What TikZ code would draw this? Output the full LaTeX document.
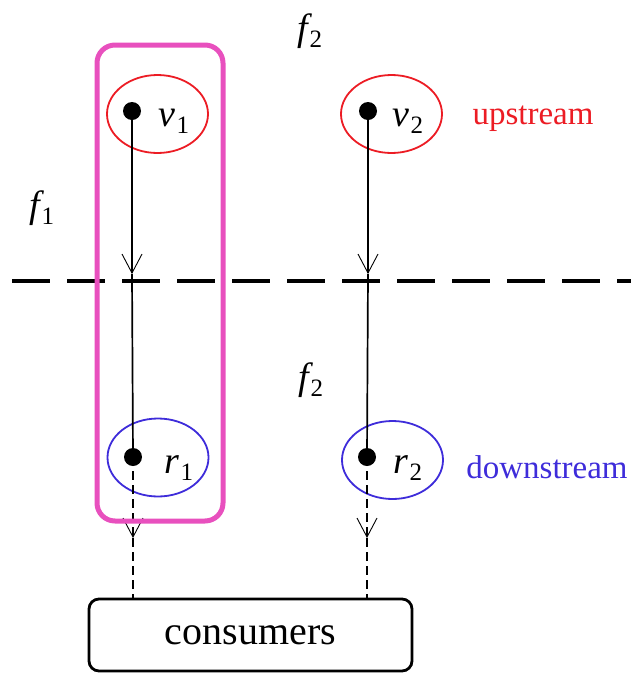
\documentclass[tikz,border=0pt]{standalone}
\usepackage{fontspec}
\setmainfont{Liberation Serif}
\usetikzlibrary{arrows.meta,shapes.geometric}
\definecolor{pinkbox}{RGB}{232,80,190}
\definecolor{upred}{RGB}{236,28,36}
\definecolor{downblue}{RGB}{62,44,218}
\newcommand{\mylab}[2]{{\fontsize{38}{40}\selectfont\itshape #1}\kern1pt\raisebox{-7pt}{\fontsize{25}{26}\selectfont #2}}
\tikzset{
  ell/.style={ellipse,draw,line width=1.8pt,inner sep=0pt,minimum width=101pt,minimum height=78pt},
  dotnode/.style={circle,fill=black,inner sep=0pt,minimum size=18pt},
  lbl/.style={inner sep=0pt,font=\fontsize{33}{38}\selectfont},
  mlbl/.style={inner sep=0pt},
  flow/.style={line width=1.7pt},
  barb/.style={-{Straight Barb[length=19pt,width=20pt,line width=0.9pt]}},
  consdash/.style={line width=1.8pt,dash pattern=on 9pt off 5pt},
}
\begin{document}
\begin{tikzpicture}[x=1pt,y=-1pt]
\useasboundingbox (0,0) rectangle (631,673);
% ellipses
\node[ell,draw=upred] (e1) at (157.5,114) {};
\node[ell,draw=upred] (e2) at (391.5,114) {};
\node[ell,draw=downblue] (e3) at (158,457.5) {};
\node[ell,draw=downblue] (e4) at (392.5,460) {};
% dots
\node[dotnode] (d1) at (132,111) {};
\node[dotnode] (d2) at (368,111) {};
\node[dotnode] (d3) at (133,457) {};
\node[dotnode] (d4) at (367,457) {};
% labels
\node[mlbl] (lv1) at (174,121) {\mylab{v}{1}};
\node[mlbl] (lv2) at (408,121) {\mylab{v}{2}};
\node[mlbl] (lr1) at (179,468) {\mylab{r}{1}};
\node[mlbl] (lr2) at (408,468) {\mylab{r}{2}};
\node[mlbl] (f2a) at (310,31) {\mylab{f}{2}};
\node[mlbl] (f1) at (42,208) {\mylab{f}{1}};
\node[mlbl] (f2b) at (311,380) {\mylab{f}{2}};
\node[lbl,text=upred] (up) at (533,119) {upstream};
\node[lbl,text=downblue] (down) at (547,467) {downstream};
% consumers box
\node[draw,line width=2.8pt,rounded corners=10pt,minimum width=323pt,minimum height=72pt,inner sep=0pt,font=\fontsize{40}{46}\selectfont] (cons) at (250.5,635) {consumers};
% separator line
\coordinate (sl) at (12,281);
\coordinate (sr) at (631,281);
\draw[line width=4pt,dash pattern=on 38pt off 17pt] (sl) -- (sr);
% flows
\coordinate (m1) at (132,274);
\coordinate (m2) at (368,274);
\draw[flow,barb] (d1.center) -- (m1);
\draw[flow] (m1) -- (d3.center);
\draw[flow,barb] (d2.center) -- (m2);
\draw[flow] (m2) -- (d4.center);
\coordinate (m3) at (133,538);
\coordinate (m4) at (367,538);
\draw[consdash,barb] (d3.center) -- (m3);
\draw[consdash] (m3) -- (cons.north -| m3);
\draw[consdash,barb] (d4.center) -- (m4);
\draw[consdash] (m4) -- (cons.north -| m4);
% pink group
\node[draw=pinkbox,line width=5pt,rounded corners=18pt,minimum width=126pt,minimum height=476pt,inner sep=0pt] (grp) at (160,283) {};
\end{tikzpicture}
\end{document}
